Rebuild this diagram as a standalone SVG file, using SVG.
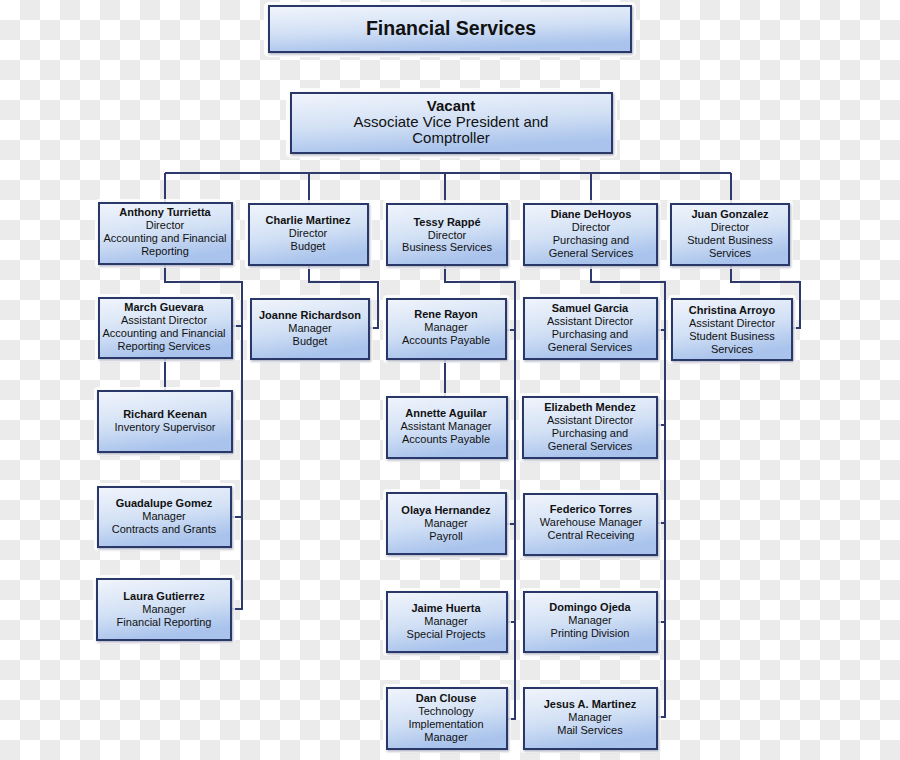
<svg xmlns="http://www.w3.org/2000/svg" width="900" height="760" viewBox="0 0 900 760">
<style>
.box{fill:url(#g);stroke:#2c3869;stroke-width:2}
.halo{fill:#ffffff;opacity:0.85}
.conn{fill:none;stroke:#2e3a6c;stroke-width:2}
text{font-family:"Liberation Sans",Arial,sans-serif;font-size:11px;fill:#111;text-anchor:middle}
.b{font-weight:bold}
</style>
<defs>
<pattern id="chk" width="40" height="40" patternUnits="userSpaceOnUse">
<rect width="40" height="40" fill="#ffffff"/>
<rect x="20" y="0" width="20" height="20" fill="#ebebeb"/>
<rect x="0" y="20" width="20" height="20" fill="#ebebeb"/>
</pattern>
<linearGradient id="g" x1="0" y1="0" x2="0.3" y2="1">
<stop offset="0" stop-color="#f1f5fc"/>
<stop offset="0.55" stop-color="#d3e1f5"/>
<stop offset="1" stop-color="#a9c3ec"/>
</linearGradient>
<filter id="sh" x="-10%" y="-10%" width="130%" height="140%">
<feDropShadow dx="1" dy="1.5" stdDeviation="1" flood-color="#1a2550" flood-opacity="0.35"/>
</filter>
</defs>
<rect width="900" height="760" fill="url(#chk)"/>

<g id="connectors">
<path class="conn" d="M165 173 H731"/>
<path class="conn" d="M165 173 V203 M309 173 V204 M445 173 V204 M591 173 V204 M731 173 V204"/>
<path class="conn" d="M165 264 V282 H242 V609 H231 M232 326 H242 M231 517 H242"/>
<path class="conn" d="M165 358 V391"/>
<path class="conn" d="M309 265 V282 H378 V328 H369"/>
<path class="conn" d="M445 265 V282 H515 V719 H507 M506 330 H515 M506 524 H515 M507 622 H515"/>
<path class="conn" d="M445 359 V397"/>
<path class="conn" d="M591 265 V282 H665 V717 H657 M657 330 H665 M657 425 H665 M657 523 H665 M657 622 H665"/>
<path class="conn" d="M731 265 V282 H800 V328 H792"/>
</g>

<g id="title"><rect class="halo" x="264" y="2" width="372" height="55" rx="5"/><rect class="box" filter="url(#sh)" x="269" y="6" width="362" height="46"/>
<text class="b" x="451" y="35" style="font-size:19.5px">Financial Services</text></g>

<g id="vp"><rect class="halo" x="286" y="88" width="331" height="70" rx="5"/><rect class="box" filter="url(#sh)" x="291" y="93" width="321" height="60"/>
<text x="451" style="font-size:15px"><tspan class="b" x="451" y="111">Vacant</tspan><tspan x="451" y="127">Associate Vice President and</tspan><tspan x="451" y="143">Comptroller</tspan></text></g>

<g id="anthony"><rect class="halo" x="95" y="199" width="141" height="69" rx="4"/><rect class="box" filter="url(#sh)" x="99" y="203" width="133" height="61"/>
<text><tspan class="b" x="165" y="216">Anthony Turrietta</tspan><tspan x="165" y="229">Director</tspan><tspan x="165" y="242">Accounting and Financial</tspan><tspan x="165" y="255">Reporting</tspan></text></g>

<g id="charlie"><rect class="halo" x="245" y="200" width="127" height="69" rx="4"/><rect class="box" filter="url(#sh)" x="249" y="204" width="119" height="61"/>
<text><tspan class="b" x="308" y="224">Charlie Martinez</tspan><tspan x="308" y="237">Director</tspan><tspan x="308" y="250">Budget</tspan></text></g>

<g id="tessy"><rect class="halo" x="383" y="200" width="128" height="69" rx="4"/><rect class="box" filter="url(#sh)" x="387" y="204" width="120" height="61"/>
<text><tspan class="b" x="447" y="226">Tessy Rappé</tspan><tspan x="447" y="239">Director</tspan><tspan x="447" y="251">Business Services</tspan></text></g>

<g id="diane"><rect class="halo" x="520" y="200" width="141" height="69" rx="4"/><rect class="box" filter="url(#sh)" x="524" y="204" width="133" height="61"/>
<text><tspan class="b" x="591" y="218">Diane DeHoyos</tspan><tspan x="591" y="231">Director</tspan><tspan x="591" y="244">Purchasing and</tspan><tspan x="591" y="257">General Services</tspan></text></g>

<g id="juan"><rect class="halo" x="667" y="200" width="126" height="69" rx="4"/><rect class="box" filter="url(#sh)" x="671" y="204" width="118" height="61"/>
<text><tspan class="b" x="730" y="218">Juan Gonzalez</tspan><tspan x="730" y="231">Director</tspan><tspan x="730" y="244">Student Business</tspan><tspan x="730" y="257">Services</tspan></text></g>

<g id="march"><rect class="halo" x="95" y="294" width="141" height="68" rx="4"/><rect class="box" filter="url(#sh)" x="99" y="298" width="133" height="60"/>
<text><tspan class="b" x="164" y="311">March Guevara</tspan><tspan x="164" y="324">Assistant Director</tspan><tspan x="164" y="337">Accounting and Financial</tspan><tspan x="164" y="350">Reporting Services</tspan></text></g>

<g id="joanne"><rect class="halo" x="247" y="295" width="126" height="68" rx="4"/><rect class="box" filter="url(#sh)" x="251" y="299" width="118" height="60"/>
<text><tspan class="b" x="310" y="319">Joanne Richardson</tspan><tspan x="310" y="332">Manager</tspan><tspan x="310" y="345">Budget</tspan></text></g>

<g id="rene"><rect class="halo" x="383" y="295" width="127" height="68" rx="4"/><rect class="box" filter="url(#sh)" x="387" y="299" width="119" height="60"/>
<text><tspan class="b" x="446" y="318">Rene Rayon</tspan><tspan x="446" y="331">Manager</tspan><tspan x="446" y="344">Accounts Payable</tspan></text></g>

<g id="samuel"><rect class="halo" x="520" y="294" width="141" height="69" rx="4"/><rect class="box" filter="url(#sh)" x="524" y="298" width="133" height="61"/>
<text><tspan class="b" x="590" y="312">Samuel Garcia</tspan><tspan x="590" y="325">Assistant Director</tspan><tspan x="590" y="338">Purchasing and</tspan><tspan x="590" y="351">General Services</tspan></text></g>

<g id="christina"><rect class="halo" x="668" y="295" width="128" height="69" rx="4"/><rect class="box" filter="url(#sh)" x="672" y="299" width="120" height="61"/>
<text><tspan class="b" x="732" y="314">Christina Arroyo</tspan><tspan x="732" y="327">Assistant Director</tspan><tspan x="732" y="340">Student Business</tspan><tspan x="732" y="353">Services</tspan></text></g>

<g id="richard"><rect class="halo" x="94" y="387" width="142" height="69" rx="4"/><rect class="box" filter="url(#sh)" x="98" y="391" width="134" height="61"/>
<text><tspan class="b" x="165" y="418">Richard Keenan</tspan><tspan x="165" y="431">Inventory Supervisor</tspan></text></g>

<g id="guadalupe"><rect class="halo" x="94" y="483" width="141" height="68" rx="4"/><rect class="box" filter="url(#sh)" x="98" y="487" width="133" height="60"/>
<text><tspan class="b" x="164" y="507">Guadalupe Gomez</tspan><tspan x="164" y="520">Manager</tspan><tspan x="164" y="533">Contracts and Grants</tspan></text></g>

<g id="laura"><rect class="halo" x="93" y="575" width="142" height="69" rx="4"/><rect class="box" filter="url(#sh)" x="97" y="579" width="134" height="61"/>
<text><tspan class="b" x="164" y="600">Laura Gutierrez</tspan><tspan x="164" y="613">Manager</tspan><tspan x="164" y="626">Financial Reporting</tspan></text></g>

<g id="annette"><rect class="halo" x="383" y="393" width="128" height="69" rx="4"/><rect class="box" filter="url(#sh)" x="387" y="397" width="120" height="61"/>
<text><tspan class="b" x="446" y="417">Annette Aguilar</tspan><tspan x="446" y="430">Assistant Manager</tspan><tspan x="446" y="443">Accounts Payable</tspan></text></g>

<g id="elizabeth"><rect class="halo" x="519" y="393" width="142" height="69" rx="4"/><rect class="box" filter="url(#sh)" x="523" y="397" width="134" height="61"/>
<text><tspan class="b" x="590" y="411">Elizabeth Mendez</tspan><tspan x="590" y="424">Assistant Director</tspan><tspan x="590" y="437">Purchasing and</tspan><tspan x="590" y="450">General Services</tspan></text></g>

<g id="olaya"><rect class="halo" x="383" y="489" width="127" height="69" rx="4"/><rect class="box" filter="url(#sh)" x="387" y="493" width="119" height="61"/>
<text><tspan class="b" x="446" y="514">Olaya Hernandez</tspan><tspan x="446" y="527">Manager</tspan><tspan x="446" y="540">Payroll</tspan></text></g>

<g id="federico"><rect class="halo" x="520" y="490" width="141" height="69" rx="4"/><rect class="box" filter="url(#sh)" x="524" y="494" width="133" height="61"/>
<text><tspan class="b" x="591" y="513">Federico Torres</tspan><tspan x="591" y="526">Warehouse Manager</tspan><tspan x="591" y="539">Central Receiving</tspan></text></g>

<g id="jaime"><rect class="halo" x="383" y="588" width="128" height="68" rx="4"/><rect class="box" filter="url(#sh)" x="387" y="592" width="120" height="60"/>
<text><tspan class="b" x="446" y="612">Jaime Huerta</tspan><tspan x="446" y="625">Manager</tspan><tspan x="446" y="638">Special Projects</tspan></text></g>

<g id="domingo"><rect class="halo" x="520" y="588" width="141" height="68" rx="4"/><rect class="box" filter="url(#sh)" x="524" y="592" width="133" height="60"/>
<text><tspan class="b" x="590" y="611">Domingo Ojeda</tspan><tspan x="590" y="624">Manager</tspan><tspan x="590" y="637">Printing Division</tspan></text></g>

<g id="dan"><rect class="halo" x="383" y="684" width="128" height="69" rx="4"/><rect class="box" filter="url(#sh)" x="387" y="688" width="120" height="61"/>
<text><tspan class="b" x="446" y="702">Dan Clouse</tspan><tspan x="446" y="715">Technology</tspan><tspan x="446" y="728">Implementation</tspan><tspan x="446" y="741">Manager</tspan></text></g>

<g id="jesus"><rect class="halo" x="520" y="684" width="141" height="69" rx="4"/><rect class="box" filter="url(#sh)" x="524" y="688" width="133" height="61"/>
<text><tspan class="b" x="590" y="708">Jesus A. Martinez</tspan><tspan x="590" y="721">Manager</tspan><tspan x="590" y="734">Mail Services</tspan></text></g>
</svg>
